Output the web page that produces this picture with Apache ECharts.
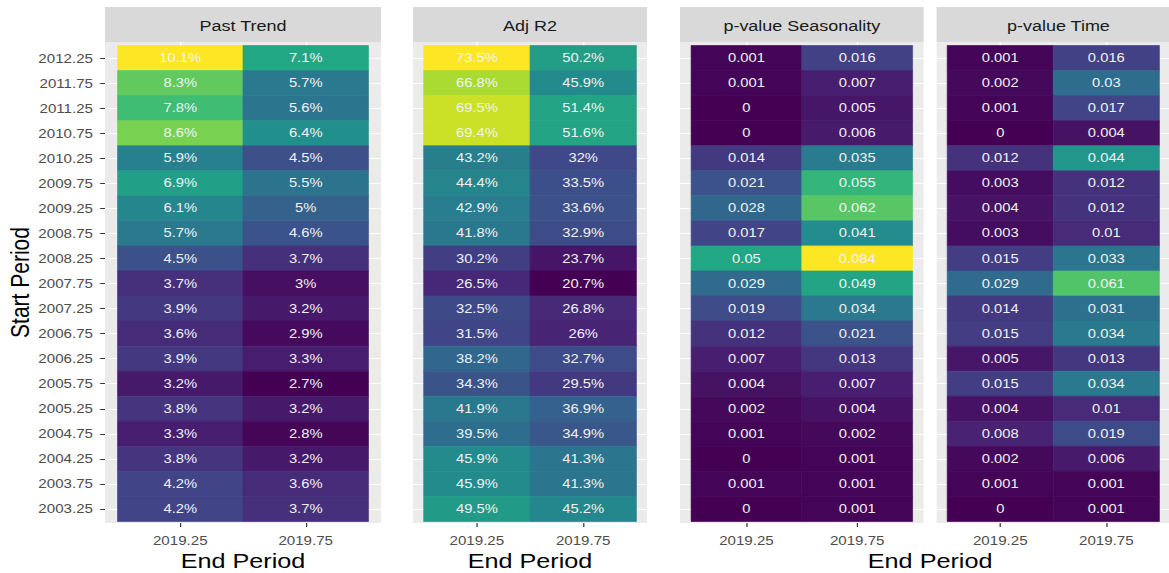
<!DOCTYPE html>
<html>
<head>
<meta charset="utf-8">
<script src="https://cdn.jsdelivr.net/npm/echarts@6/dist/echarts.min.js"></script>
<style>
  html, body { margin: 0; padding: 0; background: #fff; overflow: hidden; }
  /* the reference is stretched horizontally, so draw narrow and stretch the whole chart */
  #chart { width: 975px; height: 573px; transform: scaleX(1.2); transform-origin: 0 0; }
</style>
</head>
<body>
<div id="chart"></div>
<script>
const startPeriods = [2012.25, 2011.75, 2011.25, 2010.75, 2010.25, 2009.75, 2009.25, 2008.75, 2008.25, 2007.75,
  2007.25, 2006.75, 2006.25, 2005.75, 2005.25, 2004.75, 2004.25, 2003.75, 2003.25]
const endPeriods = [2019.25, 2019.75]

// values listed top row (2012.25) to bottom row (2003.25)
const pastTrendA = [10.1, 8.3, 7.8, 8.6, 5.9, 6.9, 6.1, 5.7, 4.5, 3.7, 3.9, 3.6, 3.9, 3.2, 3.8, 3.3, 3.8, 4.2, 4.2]
const pastTrendB = [7.1, 5.7, 5.6, 6.4, 4.5, 5.5, 5, 4.6, 3.7, 3, 3.2, 2.9, 3.3, 2.7, 3.2, 2.8, 3.2, 3.6, 3.7]
const adjR2A = [73.5, 66.8, 69.5, 69.4, 43.2, 44.4, 42.9, 41.8, 30.2, 26.5, 32.5, 31.5, 38.2, 34.3, 41.9, 39.5, 45.9, 45.9, 49.5]
const adjR2B = [50.2, 45.9, 51.4, 51.6, 32, 33.5, 33.6, 32.9, 23.7, 20.7, 26.8, 26, 32.7, 29.5, 36.9, 34.9, 41.3, 41.3, 45.2]
const pSeasonA = [0.001, 0.001, 0, 0, 0.014, 0.021, 0.028, 0.017, 0.05, 0.029, 0.019, 0.012, 0.007, 0.004, 0.002, 0.001, 0, 0.001, 0]
const pSeasonB = [0.016, 0.007, 0.005, 0.006, 0.035, 0.055, 0.062, 0.041, 0.084, 0.049, 0.034, 0.021, 0.013, 0.007, 0.004, 0.002, 0.001, 0.001, 0.001]
const pTimeA = [0.001, 0.002, 0.001, 0, 0.012, 0.003, 0.004, 0.003, 0.015, 0.029, 0.014, 0.015, 0.005, 0.015, 0.004, 0.008, 0.002, 0.001, 0]
const pTimeB = [0.016, 0.03, 0.017, 0.004, 0.044, 0.012, 0.012, 0.01, 0.033, 0.061, 0.031, 0.034, 0.013, 0.034, 0.01, 0.019, 0.006, 0.001, 0.001]

const viridis = ['#440154', '#482475', '#414487', '#355F8D', '#2A788E', '#21908C',
  '#22A884', '#43BF71', '#7AD151', '#BBDF27', '#FDE725']

const FONT = '"Liberation Sans", Arial, sans-serif'
const TOP = 42
const HEIGHT = 481

function cells(colA, colB) {
  const out = []
  startPeriods.forEach((s, i) => {
    out.push([endPeriods[0], s, colA[i]])
    out.push([endPeriods[1], s, colB[i]])
  })
  return out
}

const pct = v => v + '%'
const plain = v => String(v)

const panels = [
  { title: 'Past Trend', left: 87.5, width: 230, data: cells(pastTrendA, pastTrendB), fmt: pct },
  { title: 'Adj R2', left: 344.2, width: 195, data: cells(adjR2A, adjR2B), fmt: pct },
  { title: 'p-value Seasonality', left: 566.7, width: 203, data: cells(pSeasonA, pSeasonB), fmt: plain },
  { title: 'p-value Time', left: 780.5, width: 203, data: cells(pTimeA, pTimeB), fmt: plain }
]

const range = arrs => {
  const all = [].concat(...arrs)
  return [Math.min(...all), Math.max(...all)]
}
const scales = [
  { r: range([pastTrendA, pastTrendB]), series: 0 },
  { r: range([adjR2A, adjR2B]), series: 1 },
  { r: range([pSeasonA, pSeasonB, pTimeA, pTimeB]), series: [2, 3] }
]

const chart = echarts.init(document.getElementById('chart'), null, { renderer: 'svg' })

const grids = []
const xAxes = []
const yAxes = []
const series = []
const graphics = []

panels.forEach((p, i) => {
  grids.push({
    left: p.left, width: p.width, top: TOP, height: HEIGHT,
    show: true, backgroundColor: '#EBEBEB', borderWidth: 0
  })
  xAxes.push({
    gridIndex: i, type: 'value', min: 2018.95, max: 2020.05,
    axisLine: { show: false },
    axisTick: { show: true, customValues: endPeriods, length: 4, lineStyle: { color: '#333333', width: 1 } },
    axisLabel: { customValues: endPeriods, formatter: v => v.toFixed(2), color: '#4D4D4D',
      fontSize: 12.6, fontFamily: FONT, margin: 11 },
    splitLine: { show: true, lineStyle: { color: '#FFFFFF', width: 1.1 } }
  })
  yAxes.push({
    gridIndex: i, type: 'value', min: 2002.97, max: 2012.57,
    name: i === 0 ? 'Start Period' : '',
    nameLocation: 'middle', nameGap: 60,
    nameTextStyle: { fontSize: 21, color: '#000000', fontFamily: FONT },
    axisLine: { show: false },
    axisTick: { show: i === 0, customValues: startPeriods, length: 4, lineStyle: { color: '#333333', width: 1 } },
    axisLabel: { show: i === 0, customValues: startPeriods, formatter: v => v.toFixed(2), color: '#4D4D4D',
      fontSize: 12.6, fontFamily: FONT, margin: 10 },
    splitLine: { show: true, lineStyle: { color: '#FFFFFF', width: 1.1 } }
  })
  series.push({
    type: 'custom',
    name: p.title,
    coordinateSystem: 'cartesian2d',
    xAxisIndex: i,
    yAxisIndex: i,
    encode: { x: 0, y: 1 },
    data: p.data,
    renderItem(params, api) {
      const x = api.value(0)
      const y = api.value(1)
      const a = api.coord([x - 0.25, y + 0.25])
      const b = api.coord([x + 0.25, y - 0.25])
      const color = api.visual('color')
      return {
        type: 'group',
        children: [
          {
            type: 'rect',
            shape: { x: a[0], y: a[1], width: b[0] - a[0], height: b[1] - a[1] },
            style: { fill: color, stroke: color, lineWidth: 0.6 }
          },
          {
            type: 'text',
            style: {
              text: p.fmt(api.value(2)),
              x: (a[0] + b[0]) / 2, y: (a[1] + b[1]) / 2,
              align: 'center', verticalAlign: 'middle',
              fill: '#F2F2F2', fontSize: 12.3, fontFamily: FONT
            }
          }
        ]
      }
    }
  })
  // facet strip
  graphics.push({
    type: 'group',
    children: [
      { type: 'rect', shape: { x: p.left, y: 7, width: p.width, height: 35 }, style: { fill: '#D9D9D9' } },
      { type: 'text', x: p.left + p.width / 2, y: 26,
        style: { text: p.title, align: 'center', verticalAlign: 'middle', fontSize: 15, fontFamily: FONT, fill: '#1A1A1A' } }
    ]
  })
})

// one x title per plot: the two p-value facets share one
const xTitles = [
  (panels[0].left + panels[0].left + panels[0].width) / 2,
  (panels[1].left + panels[1].left + panels[1].width) / 2,
  (panels[2].left + panels[3].left + panels[3].width) / 2
]
xTitles.forEach(cx => {
  graphics.push({ type: 'text', x: cx, y: 561,
    style: { text: 'End Period', align: 'center', verticalAlign: 'middle', fontSize: 21, fontFamily: FONT, fill: '#000000' } })
})

chart.setOption({
  backgroundColor: '#FFFFFF',
  animation: false,
  grid: grids,
  xAxis: xAxes,
  yAxis: yAxes,
  visualMap: scales.map(s => ({
    type: 'continuous', show: false, dimension: 2,
    min: s.r[0], max: s.r[1], seriesIndex: s.series,
    inRange: { color: viridis }
  })),
  graphic: graphics,
  series: series
})
</script>
</body>
</html>
